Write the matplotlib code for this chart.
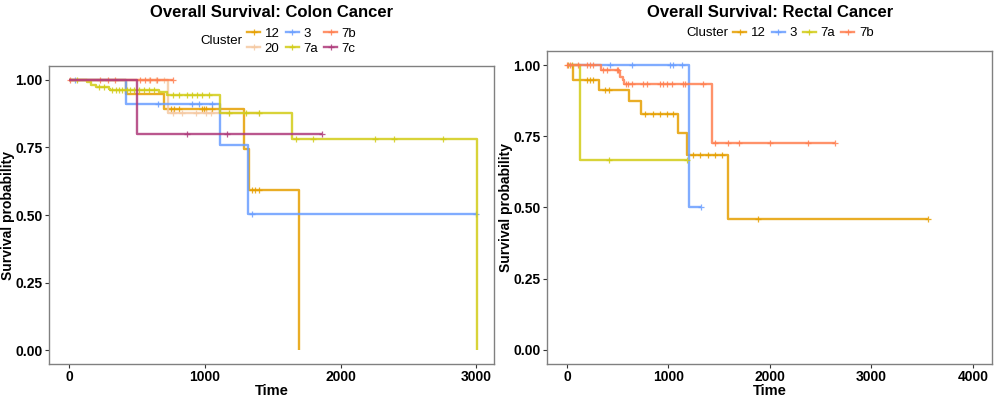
import numpy as np
import matplotlib
matplotlib.use('Agg')
import matplotlib.pyplot as plt
from matplotlib.lines import Line2D

plt.rcParams['font.family'] = ['Liberation Sans', 'DejaVu Sans']

# cluster order and colours
clusters = ['12', '20', '3', '7a', '7b', '7c']
colors = {'12': '#E69F00', '20': '#F5C9A3', '3': '#6A9EFF',
          '7a': '#D2CC16', '7b': '#FF7F50', '7c': '#AE3A7A'}

# ---- Colon cancer: event times, survival after each event, censor times
colon_12_t = [420, 700, 1287, 1322, 1690]
colon_12_s = [0.947, 0.892, 0.743, 0.594, 0.0]
colon_12_c = [753, 775, 812, 980, 995, 1009, 1053, 1346, 1368, 1397]

colon_20_t = [731]
colon_20_s = [0.875]
colon_20_c = [590, 640, 700, 761, 834, 936, 1009, 1046, 1180, 1400]

colon_3_t = [420, 1110, 1317]
colon_3_s = [0.909, 0.758, 0.505]
colon_3_c = [44, 651, 908, 958, 1055, 1344, 3000]

colon_7a_t = [130, 160, 200, 290, 300, 660, 720, 1110, 1641, 3005]
colon_7a_s = [0.990, 0.980, 0.972, 0.966, 0.960, 0.953, 0.943, 0.876, 0.779, 0.0]
colon_7a_c = [60, 219, 256, 316, 342, 366, 390, 427, 451, 475, 512, 549, 585,
              622, 761, 812, 871, 907, 944, 980, 1031, 1178, 1302, 1397,
              1668, 1800, 2251, 2397, 2755]

colon_7b_t = []
colon_7b_s = []
colon_7b_c = [7, 227, 285, 336, 519, 556, 593, 644, 761]

colon_7c_t = [500]
colon_7c_s = [0.8]
colon_7c_c = [871, 1163, 1860]

# ---- Rectal cancer
rectal_12_t = [62, 318, 611, 729, 1097, 1182, 1583]
rectal_12_s = [0.947, 0.914, 0.875, 0.829, 0.761, 0.685, 0.459]
rectal_12_c = [10, 46, 194, 227, 259, 374, 417, 768, 847, 916, 985, 1048,
               1241, 1310, 1389, 1458, 1527, 1885, 3557]

rectal_3_t = [1202]
rectal_3_s = [0.5]
rectal_3_c = [424, 637, 1015, 1047, 1130, 1320]

rectal_7a_t = [128]
rectal_7a_s = [0.667]
rectal_7a_c = [417, 1179]

rectal_7b_t = [335, 509, 522, 552, 565, 1432]
rectal_7b_s = [0.983, 0.976, 0.959, 0.948, 0.933, 0.727]
rectal_7b_c = [0, 30, 112, 194, 227, 259, 358, 391, 490, 505, 581, 604, 637,
               752, 785, 916, 949, 982, 1031, 1146, 1163, 1343, 1458, 1583,
               1698, 2000, 2377, 2640]

colon = {'12': (colon_12_t, colon_12_s, colon_12_c),
         '20': (colon_20_t, colon_20_s, colon_20_c),
         '3': (colon_3_t, colon_3_s, colon_3_c),
         '7a': (colon_7a_t, colon_7a_s, colon_7a_c),
         '7b': (colon_7b_t, colon_7b_s, colon_7b_c),
         '7c': (colon_7c_t, colon_7c_s, colon_7c_c)}
rectal = {'12': (rectal_12_t, rectal_12_s, rectal_12_c),
          '3': (rectal_3_t, rectal_3_s, rectal_3_c),
          '7a': (rectal_7a_t, rectal_7a_s, rectal_7a_c),
          '7b': (rectal_7b_t, rectal_7b_s, rectal_7b_c)}


def km_curve(ax, t, s, c, color):
    t = np.asarray(t, float)
    s = np.asarray(s, float)
    c = np.asarray(c, float)
    end = max(t.max() if t.size else 0, c.max() if c.size else 0)
    xs = np.concatenate([[0], t])
    ys = np.concatenate([[1.0], s])
    if ys[-1] > 0:
        xs = np.append(xs, end)
        ys = np.append(ys, ys[-1])
    ax.step(xs, ys, where='post', color=color, lw=1.7, alpha=0.85,
            solid_capstyle='butt')
    # censor marks sit on the curve
    idx = np.searchsorted(t, c, side='right')
    cy = np.concatenate([[1.0], s])[idx]
    ax.plot(c, cy, '+', color=color, ms=5, mew=0.9, alpha=0.85)


def style_axes(ax, xmax, xticks):
    ax.set_xlim(xmax[0], xmax[1])
    ax.set_ylim(-0.05, 1.05)
    ax.set_xticks(xticks)
    ax.set_yticks([0, 0.25, 0.5, 0.75, 1.0])
    ax.set_yticklabels(['0.00', '0.25', '0.50', '0.75', '1.00'])
    for sp in ax.spines.values():
        sp.set_color('#808080')
        sp.set_linewidth(1.0)
    ax.tick_params(direction='out', length=3, width=0.8, color='#333333',
                   labelsize=10, pad=1.5)
    for lab in ax.get_xticklabels() + ax.get_yticklabels():
        lab.set_fontweight('bold')
    ax.set_xlabel('Time', fontsize=10.5, fontweight='bold', labelpad=0)
    ax.set_ylabel('Survival probability', fontsize=10, fontweight='bold')
    ax.yaxis.set_label_coords(-0.077, 0.5)


fig = plt.figure(figsize=(9.97, 3.99), dpi=100)
ax0 = fig.add_axes([0.0491, 0.0877, 0.4463, 0.7469])
ax1 = fig.add_axes([0.5486, 0.0877, 0.4463, 0.7845])

for k in clusters:
    if k in colon:
        km_curve(ax0, *colon[k], colors[k])
for k in clusters:
    if k in rectal:
        km_curve(ax1, *rectal[k], colors[k])

style_axes(ax0, (-150, 3130), [0, 1000, 2000, 3000])
style_axes(ax1, (-197, 4187), [0, 1000, 2000, 3000, 4000])

fig.text(0.272, 0.968, 'Overall Survival: Colon Cancer', ha='center',
         va='center', fontsize=12, fontweight='bold')
fig.text(0.772, 0.968, 'Overall Survival: Rectal Cancer', ha='center',
         va='center', fontsize=12, fontweight='bold')


def handles(keys):
    return [Line2D([], [], color=colors[k], lw=1.7, marker='+', ms=5,
                   mew=0.9, alpha=0.85) for k in keys]


leg_keys0 = ['12', '20', '3', '7a', '7b', '7c']
fig.legend(handles(leg_keys0), leg_keys0, loc='center left', ncol=3,
           bbox_to_anchor=(0.2477, 0.897), frameon=False, fontsize=9.5,
           handlelength=1.0, handletextpad=0.35, columnspacing=0.45,
           labelspacing=0.2, borderpad=0, borderaxespad=0)
fig.text(0.2427, 0.897, 'Cluster', ha='right', va='center', fontsize=9.5)

leg_keys1 = ['12', '3', '7a', '7b']
fig.legend(handles(leg_keys1), leg_keys1, loc='center left', ncol=4,
           bbox_to_anchor=(0.7352, 0.917), frameon=False, fontsize=9.5,
           handlelength=1.0, handletextpad=0.35, columnspacing=0.45,
           borderpad=0, borderaxespad=0)
fig.text(0.7305, 0.917, 'Cluster', ha='right', va='center', fontsize=9.5)

fig.savefig('out.png', dpi=100)
